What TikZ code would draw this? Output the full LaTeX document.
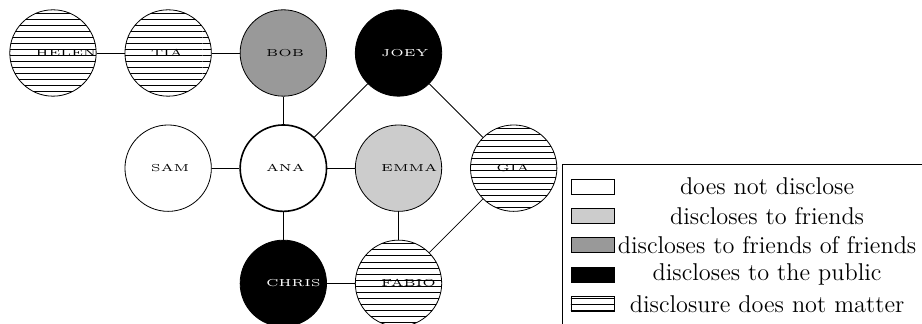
\documentclass[tikz,border=0pt]{standalone}
\usetikzlibrary{patterns}
\newcommand{\pname}[1]{\scalebox{1.3}[1]{#1}}
\tikzstyle{person} = [circle, minimum size=1.5cm, inner sep=0pt, text width=0.6cm, align=left, draw=black, font=\tiny]
\tikzstyle{nodisclose} = [fill=white]
\tikzstyle{friends} = [fill=black!20]
\tikzstyle{fof} = [fill=black!40]
\tikzstyle{public} = [fill=black, text=white]
\tikzstyle{nomatter} = [pattern=horizontal lines]
\tikzstyle{swatch} = [rectangle, minimum width=0.76cm, minimum height=0.26cm, inner sep=0pt, draw=black]
\tikzstyle{legtext} = [font=\large]

\begin{document}
\begin{tikzpicture}[node distance=2cm]
\useasboundingbox (-0.92,0.92) rectangle (15.09,-4.70);

\node (helen) [person, nomatter] {\pname{HELEN}};
\node (tia) [person, nomatter, right of=helen] {\pname{TIA}};
\node (bob) [person, fof, right of=tia] {\pname{BOB}};
\node (joey) [person, public, right of=bob] {\pname{JOEY}};

\node (sam) [person, nodisclose, below of=tia] {\pname{SAM}};
\node (ana) [person, nodisclose, thick, right of=sam] {\pname{ANA}};
\node (emma) [person, friends, right of=ana] {\pname{EMMA}};
\node (gia) [person, nomatter, right of=emma] {\pname{GIA}};

\node (chris) [person, public, below of=ana] {\pname{CHRIS}};
\node (fabio) [person, nomatter, right of=chris] {\pname{FABIO}};

\draw (helen) -- (tia);
\draw (tia) -- (bob);
\draw (bob) -- (ana);
\draw (joey) -- (ana);
\draw (joey) -- (gia);
\draw (sam) -- (ana);
\draw (ana) -- (emma);
\draw (emma) -- (fabio);
\draw (ana) -- (chris);
\draw (chris) -- (fabio);
\draw (fabio) -- (gia);

% legend
\draw (8.85,-1.94) rectangle (16.5,-5.5);
\node (l1) [swatch, nodisclose] at (9.375,-2.32) {};
\node (l2) [swatch, friends, below of=l1, yshift=1.49cm] {};
\node (l3) [swatch, fof, below of=l2, yshift=1.49cm] {};
\node (l4) [swatch, public, below of=l3, yshift=1.49cm] {};
\node (l5) [swatch, nomatter, below of=l4, yshift=1.49cm] {};

\node (t1) [legtext, right of=l1, xshift=1.025cm] {does not disclose};
\node (t2) [legtext, right of=l2, xshift=1.025cm] {discloses to friends};
\node (t3) [legtext, right of=l3, xshift=1.025cm] {discloses to friends of friends};
\node (t4) [legtext, right of=l4, xshift=1.025cm] {discloses to the public};
\node (t5) [legtext, right of=l5, xshift=1.025cm] {disclosure does not matter};

\end{tikzpicture}
\end{document}
